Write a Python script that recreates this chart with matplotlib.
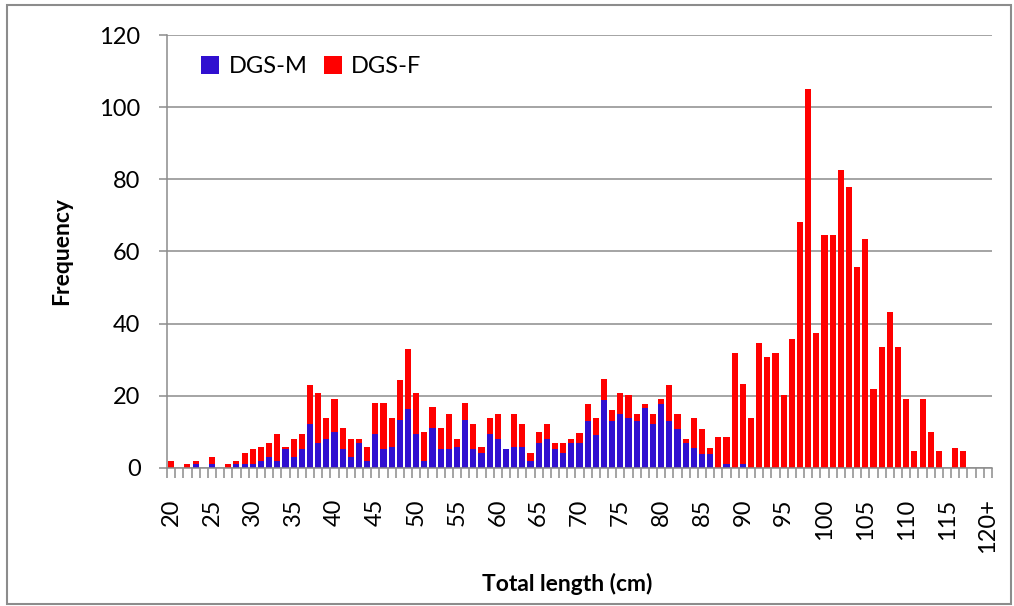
import numpy as np
import matplotlib.pyplot as plt
from matplotlib.patches import Rectangle

plt.rcParams['font.family'] = ['Lato', 'DejaVu Sans']

# length classes 20..120+ (cm)
lengths = list(range(20, 121))
tick_labels = [str(v) if v < 120 else '120+' for v in lengths]

# DGS-M (males), per cm class
males = [0, 0, 0, 1.1, 0, 1.1, 0, 0, 1.1, 1.1,
         1.1, 1.8, 2.9, 1.8, 5.2, 2.9, 5.2, 12.1, 6.9, 8.1,
         9.8, 5.2, 2.9, 6.9, 1.8, 9.3, 5.2, 5.7, 13.3, 16.2,
         9.3, 1.8, 10.9, 5.2, 5.2, 5.7, 13.3, 5.2, 4.0, 9.3,
         8.1, 5.2, 5.7, 5.7, 1.8, 6.9, 8.1, 5.2, 4.0, 6.8,
         6.8, 13.1, 9.1, 18.9, 13.1, 14.9, 13.7, 13.1, 16.7, 12.0,
         17.8, 13.1, 10.8, 6.8, 5.6, 3.9, 3.9, 0, 1.0, 0,
         1.0, 0, 0, 0, 0, 0, 0, 0, 0, 0,
         0, 0, 0, 0, 0, 0, 0, 0, 0, 0,
         0, 0, 0, 0, 0, 0, 0, 0, 0, 0,
         0]

# total height of stacked bar (M + F)
totals = [1.8, 0, 1.1, 1.8, 0, 2.9, 0, 1.1, 1.8, 4.1,
          5.2, 5.7, 6.9, 9.3, 5.7, 8.1, 9.3, 23.0, 20.7, 13.8,
          19.1, 10.9, 8.1, 8.1, 5.7, 18.0, 18.0, 13.9, 24.3, 33.0,
          20.8, 9.8, 16.8, 10.9, 15.0, 8.1, 18.0, 12.1, 5.7, 13.9,
          15.0, 5.2, 15.0, 12.1, 4.0, 9.8, 12.1, 6.9, 6.9, 7.9,
          9.7, 17.8, 13.7, 24.6, 16.0, 20.6, 20.1, 14.9, 17.8, 14.9,
          19.0, 23.0, 14.9, 7.9, 13.7, 10.8, 5.6, 8.5, 8.5, 31.8,
          23.1, 13.9, 34.5, 30.6, 31.8, 20.2, 35.7, 68.1, 104.9, 37.3,
          64.6, 64.6, 82.5, 77.9, 55.8, 63.4, 21.9, 33.4, 43.2, 33.4,
          19.0, 4.6, 19.0, 9.8, 4.6, 0, 5.6, 4.6, 0, 0,
          0]

females = [t - m for t, m in zip(totals, males)]

grey = '#8c8c8c'
x = np.arange(len(lengths))

fig = plt.figure(figsize=(10.14, 6.06), dpi=100)
ax = fig.add_axes([0.1647, 0.2281, 0.8136, 0.7141])

ax.bar(x, males, width=0.75, color='#3010d0', label='DGS-M', zorder=2)
ax.bar(x, females, width=0.75, bottom=males, color='#ff0000', label='DGS-F', zorder=2)

ax.set_xlim(-0.5, len(lengths) - 0.5)
ax.set_ylim(0, 120)
ax.set_yticks(np.arange(0, 121, 20))
ax.yaxis.grid(True, color=grey, linewidth=1.1)
ax.set_axisbelow(True)

# labels every 5 cm, tick marks between classes
ax.set_xticks(x[::5])
ax.set_xticklabels(tick_labels[::5], rotation=90, fontsize=17)
ax.set_xticks(np.arange(-0.5, len(lengths)), minor=True)
ax.tick_params(axis='x', which='major', length=0, pad=22)
ax.tick_params(axis='x', which='minor', length=7, width=1.1, color=grey)
ax.tick_params(axis='y', length=6, width=1.1, color=grey, pad=13, labelsize=17)

for s in ['top', 'right']:
    ax.spines[s].set_visible(False)
for s in ['left', 'bottom']:
    ax.spines[s].set_color(grey)
    ax.spines[s].set_linewidth(1.1)

fig.text(0.061, 0.585, 'Frequency', fontsize=16.5, fontweight='bold',
         rotation=90, ha='center', va='center')
fig.text(0.559, 0.036, 'Total length (cm)', fontsize=16.5, fontweight='bold',
         ha='center', va='center')

ax.legend(loc='upper left', bbox_to_anchor=(0.016, 1.0), ncol=2, frameon=False,
          fontsize=17, handlelength=0.75, handleheight=0.75, handletextpad=0.4,
          columnspacing=0.7)

fig.patches.append(Rectangle((0.007, 0.004), 0.99, 0.987, transform=fig.transFigure,
                             fill=False, edgecolor=grey, linewidth=1.5))

fig.savefig('out.png', dpi=100)
